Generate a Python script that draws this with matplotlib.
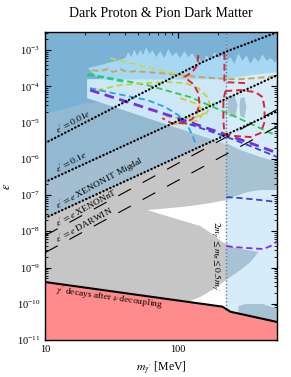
import numpy as np
import matplotlib
matplotlib.use("Agg")
import matplotlib.pyplot as plt
from matplotlib.patches import Polygon

plt.rcParams['font.family'] = ['Liberation Serif', 'DejaVu Serif']
plt.rcParams['mathtext.fontset'] = 'stix'

# ---------------- data (log10 of mass in MeV, log10 of epsilon) ----------------
m_lim = (10, 550)
eps_lim = (1e-11, 10 ** -2.5)
m_threshold_log = 2.361          # vertical dotted line (~230 MeV)

# gamma' decays after nu decoupling (lower bound)
decoup_lm = [1.0, 2.331, 2.391, 2.75]
decoup_le = [-9.40, -10.08, -10.22, -10.51]

# gray excluded region (two lobes)
gray_lm = [1.0, 1.149, 1.316, 1.489, 1.714, 1.902, 2.090, 2.278, 2.361, 2.466, 2.617, 2.767,
           2.767, 2.617, 2.519, 2.429, 2.361, 2.241, 2.090, 1.940, 1.767,
           1.865, 2.015, 2.165, 2.256, 2.331, 2.429, 2.602,
           2.541, 2.466, 2.368, 2.278, 2.165, 2.053, 1.940, 1.0]
gray_le = [-4.766, -4.628, -4.462, -4.434, -4.600, -4.821, -5.097, -5.400, -5.566, -5.759, -5.952, -6.117,
           -6.862, -6.862, -6.917, -7.028, -7.138, -7.221, -7.303, -7.359, -7.414,
           -7.524, -7.690, -7.855, -8.076, -8.297, -8.462, -8.572,
           -8.848, -9.069, -9.317, -9.566, -9.814, -9.979, -10.17, -10.17]

# light-blue jagged region (top edge), left tip to right edge
l1_top_lm = [1.323, 1.414, 1.526, 1.602, 1.624, 1.647, 1.669, 1.692, 1.714, 1.737, 1.759, 1.782,
             1.805, 1.835, 1.865, 1.895, 1.925, 1.955, 1.985, 2.015, 2.045, 2.075, 2.105, 2.135,
             2.150, 2.180, 2.211, 2.241, 2.271, 2.301, 2.331, 2.361, 2.391, 2.421, 2.451, 2.481,
             2.511, 2.541, 2.571, 2.602, 2.632, 2.662, 2.692, 2.722, 2.75]
l1_top_le = [-3.497, -3.414, -3.303, -3.221, -3.055, -3.193, -2.972, -3.166, -3.000, -3.138, -2.917, -3.110,
             -3.000, -3.193, -3.028, -3.221, -2.972, -3.166, -3.055, -3.221, -3.028, -3.193, -3.083, -3.276,
             -3.193, -3.359, -3.138, -3.276, -3.055, -3.221, -3.138, -3.300, -3.200, -3.380, -3.100, -3.300,
             -3.150, -3.380, -3.200, -3.330, -3.120, -3.300, -3.220, -3.330, -3.250]
l1_bot_lm = [2.75, 2.541, 2.361, 1.414, 1.376]
l1_bot_le = [-3.607, -3.690, -3.800, -3.800, -3.690]

# lighter wedge below it
l2_lm = [1.316, 2.361, 2.361, 1.316]
l2_le = [-3.800, -3.800, -5.600, -4.324]

# small gray-blue blobs in the right region
blob1_lm = [2.376, 2.421, 2.444, 2.429, 2.383, 2.368]
blob1_le = [-4.269, -4.241, -4.517, -4.821, -4.848, -4.600]
blob2_lm = [2.466, 2.496, 2.511, 2.496, 2.466, 2.459]
blob2_le = [-4.324, -4.297, -4.572, -4.876, -4.821, -4.545]
blob3_lm = [2.451, 2.451, 2.504, 2.632, 2.75, 2.75]
blob3_le = [-10.40, -10.062, -10.007, -10.007, -10.145, -10.60]

# black reference lines
dot_001_lm = [1.0, 2.165, 2.368, 2.744]
dot_001_le = [-5.566, -3.359, -3.028, -2.503]
dot_01_lm = [1.0, 2.744]
dot_01_le = [-6.641, -3.690]
dot_mig_lm = [1.0, 2.744]
dot_mig_le = [-7.634, -4.683]
dash_lm = [1.0, 2.7404]
dash_xnt_le = [-8.12, -4.639]
dash_dar_le = [-8.59, -5.109]

# coloured projection / constraint curves
olive_lm = [1.353, 1.414, 1.466, 1.511, 1.564, 1.617, 1.677, 1.767, 1.865, 2.015, 2.165, 2.278, 2.361, 2.466, 2.579, 2.744]
olive_le = [-3.552, -3.579, -3.524, -3.607, -3.524, -3.607, -3.579, -3.607, -3.634, -3.690, -3.745, -3.772, -3.800, -3.800, -3.772, -3.717]
ylw_lm = [1.489, 1.767, 2.090]
ylw_le = [-3.221, -3.469, -3.745]
green_lm = [1.323, 1.489, 1.767, 2.090, 2.368, 2.564, 2.744]
green_le = [-3.662, -3.772, -3.966, -4.297, -4.738, -5.069, -5.372]
teal_lm = [1.316, 1.489, 1.602]
teal_le = [-3.690, -3.800, -3.883]
lime_lm = [1.391, 1.564, 1.752, 1.917, 2.053, 2.150, 2.218, 2.241, 2.211, 2.128, 2.015, 1.902]
lime_le = [-4.103, -3.966, -3.910, -3.883, -3.910, -4.048, -4.297, -4.545, -4.738, -4.848, -4.876, -4.821]
gold_lm = [2.015, 2.143, 2.195, 2.150, 2.053, 1.940]
gold_le = [-4.324, -4.490, -4.710, -4.931, -5.041, -5.041]
cyan_lm = [1.338, 1.511, 1.767, 1.902, 2.000, 2.068, 2.105, 2.128]
cyan_le = [-4.048, -4.186, -4.379, -4.572, -4.793, -5.069, -5.345, -5.566]
purple_lm = [1.338, 1.669, 2.015, 2.346, 2.541, 2.744]
purple_le = [-4.103, -4.490, -4.903, -5.317, -5.566, -5.841]
blue_lm = [2.015, 2.346, 2.541, 2.744]
blue_le = [-4.959, -5.372, -5.648, -5.952]
redL_lm = [2.150, 2.143, 2.105, 2.045, 2.113, 2.150, 2.158, 2.143, 2.105, 2.038, 1.947, 1.880]
redL_le = [-3.138, -3.414, -3.607, -3.745, -3.938, -4.186, -4.462, -4.710, -4.903, -5.014, -5.014, -4.876]
redR_lm = [2.353, 2.466, 2.579, 2.632, 2.647, 2.647, 2.617, 2.541, 2.429, 2.346, 2.338, 2.338, 2.353]
redR_le = [-4.131, -4.103, -4.159, -4.297, -4.600, -4.986, -5.290, -5.400, -5.372, -5.317, -4.931, -4.379, -4.131]
redT_lm = [2.346, 2.346, 2.504]
redT_le = [-3.083, -3.883, -3.910]
blueLow_lm = [2.361, 2.466, 2.617, 2.744]
blueLow_le = [-7.055, -7.083, -7.138, -7.193]
purpLow_lm = [2.361, 2.414, 2.519, 2.639, 2.692, 2.744]
purpLow_le = [-8.407, -8.434, -8.462, -8.490, -8.407, -8.269]

# label positions: (log10 m of left start, offset above its line in decades)
label_start_lm = 1.098

# colours
c_blue = '#7cb1d6'
c_gray = '#c6c6c6'
c_grayblue_hi = '#93b8d2'
c_grayblue_lo = '#a2bed0'
c_light = '#d6ecf9'
c_graylight = '#a6c2d3'
c_l1 = '#a7d8f3'
c_l2 = '#cce8f8'
c_pink = '#ff8c8c'


def P(lm, le):
    return np.column_stack([10 ** np.asarray(lm, float), 10 ** np.asarray(le, float)])


fig = plt.figure(figsize=(2.91, 3.77), dpi=100)
ax = fig.add_axes([45 / 291, 1 - 340 / 377, 232 / 291, 308 / 377])
ax.set_xscale('log')
ax.set_yscale('log')
ax.set_xlim(*m_lim)
ax.set_ylim(*eps_lim)

top_le = -2.4
mig_at_thr = np.interp(m_threshold_log, dot_mig_lm, dot_mig_le)
d01_at_thr = np.interp(m_threshold_log, dot_01_lm, dot_01_le)

# left blue region (above Migdal line)
blue_patch = Polygon(P([1.0, m_threshold_log, m_threshold_log, 1.0],
                       [top_le, top_le, mig_at_thr, dot_mig_le[0]]),
                     closed=True, fc=c_blue, ec='none', zorder=1)
ax.add_patch(blue_patch)
upper_clip = Polygon(P([1.0, m_threshold_log, m_threshold_log, 1.0],
                       [top_le, top_le, d01_at_thr, dot_01_le[0]]),
                     closed=True, transform=ax.transData)

# right light region (above decoupling line)
dec_thr = np.interp(m_threshold_log, decoup_lm, decoup_le)
r_lm = [m_threshold_log, 2.8, 2.8, m_threshold_log]
r_le = [top_le, top_le, -10.6, dec_thr]
right_patch = Polygon(P(r_lm, r_le), closed=True, fc=c_light, ec='none', zorder=1)
ax.add_patch(right_patch)

# gray region
ax.add_patch(Polygon(P(gray_lm, gray_le), closed=True, fc=c_gray, ec='none', zorder=0.5))
g2 = Polygon(P(gray_lm, gray_le), closed=True, fc=c_grayblue_lo, ec='none', zorder=1.5)
ax.add_patch(g2)
g2.set_clip_path(blue_patch)
g2b = Polygon(P(gray_lm, gray_le), closed=True, fc=c_grayblue_hi, ec='none', zorder=1.6)
ax.add_patch(g2b)
g2b.set_clip_path(upper_clip)
g3 = Polygon(P(gray_lm, gray_le), closed=True, fc=c_graylight, ec='none', zorder=1.5)
ax.add_patch(g3)
g3.set_clip_path(right_patch)

# light wedges
ax.add_patch(Polygon(P(l2_lm, l2_le), closed=True, fc=c_l2, ec='none', zorder=2))
l1 = P(l1_top_lm + l1_bot_lm, l1_top_le + l1_bot_le)
ax.add_patch(Polygon(l1, closed=True, fc=c_l1, ec='none', zorder=2.1))
# top-right blue above the jagged edge
idx = [i for i, v in enumerate(l1_top_lm) if v >= m_threshold_log]
tr_lm = [m_threshold_log, 2.8, 2.8] + [l1_top_lm[i] for i in idx[::-1]]
tr_le = [top_le, top_le, l1_top_le[-1]] + [l1_top_le[i] for i in idx[::-1]]
ax.add_patch(Polygon(P(tr_lm, tr_le), closed=True, fc=c_blue, ec='none', zorder=2.2))

for bl, be in [(blob1_lm, blob1_le), (blob2_lm, blob2_le), (blob3_lm, blob3_le)]:
    ax.add_patch(Polygon(P(bl, be), closed=True, fc=c_graylight, ec='none', zorder=2.3))

# pink region below decoupling line
dm = 10 ** np.asarray(decoup_lm)
de = 10 ** np.asarray(decoup_le)
ax.fill_between(dm, de, 1e-12, color=c_pink, lw=0, zorder=3)
ax.plot(dm, de, color='black', lw=1.5, zorder=6)

# vertical threshold line
ax.plot([10 ** m_threshold_log] * 2, [10 ** dec_thr, 1e-2],
        color='#5f7f95', lw=1.0, ls=(0, (1, 1.5)), zorder=4)

# coloured curves
curves = [
    (olive_lm, olive_le, '#c9a24e', 1.3),
    (ylw_lm, ylw_le, '#c8d44a', 1.3),
    (green_lm, green_le, '#2ecc40', 1.3),
    (teal_lm, teal_le, '#20c8a8', 1.3),
    (lime_lm, lime_le, '#b9d63a', 1.3),
    (gold_lm, gold_le, '#e8c21e', 1.3),
    (cyan_lm, cyan_le, '#1fa6e6', 1.3),
    (purple_lm, purple_le, '#7a2de0', 2.0),
    (blue_lm, blue_le, '#3347dd', 1.3),
    (redL_lm, redL_le, '#dc2436', 1.4),
    (redR_lm, redR_le, '#dc2436', 1.4),
    (redT_lm, redT_le, '#dc2436', 1.4),
    (blueLow_lm, blueLow_le, '#3347dd', 1.3),
    (purpLow_lm, purpLow_le, '#8a2be2', 1.3),
]
for lm, le, col, lw in curves:
    ax.plot(10 ** np.asarray(lm), 10 ** np.asarray(le), color=col, lw=lw,
            ls=(0, (3.5, 2)), zorder=5)

# black reference lines
for lm, le in [(dot_001_lm, dot_001_le), (dot_01_lm, dot_01_le), (dot_mig_lm, dot_mig_le)]:
    ax.plot(10 ** np.asarray(lm), 10 ** np.asarray(le), color='black', lw=1.7, ls=(0, (0.1, 1.5)),
            dash_capstyle='round', zorder=7)
for le in [dash_xnt_le, dash_dar_le]:
    ax.plot(10 ** np.asarray(dash_lm), 10 ** np.asarray(le), color='black', lw=0.8,
            ls=(0, (13, 12)), zorder=7)

# text labels along the lines
fs = 6.8
rot = 28.6
labels = [
    (dot_001_lm, dot_001_le, r"$\epsilon' = 0.01e$", 0.07),
    (dot_01_lm, dot_01_le, r"$\epsilon' = 0.1e$", 0.09),
    (dot_mig_lm, dot_mig_le, r"$\epsilon' = e$ XENON1T Migdal", 0.07),
    (dash_lm, dash_xnt_le, r"$\epsilon' = e$ XENONnT", 0.04),
    (dash_lm, dash_dar_le, r"$\epsilon' = e$ DARWIN", 0.07),
]
for lm, le, txt, off in labels:
    y0 = np.interp(label_start_lm, lm, le) + off
    ax.text(10 ** label_start_lm, 10 ** y0, txt, fontsize=fs, rotation=rot,
            rotation_mode='anchor', ha='left', va='baseline', zorder=8)

ax.text(30.3, 1.45e-10, r"$\gamma'$ decays after $\nu$ decoupling", fontsize=fs, rotation=-8,
        ha='center', va='center', zorder=8)
ax.text(193, 10 ** -8.68, r"$2m_{\gamma'} \leq m_{\pi} \leq 0.5m_{\gamma'}$", fontsize=fs, rotation=-90,
        ha='center', va='center', zorder=8)

# axes styling
ax.set_yticks([10.0 ** k for k in range(-11, -2)])
ax.set_xticks([10, 100])
ax.set_xticklabels(['10', '100'])
ax.tick_params(which='both', direction='in', top=True, right=True, labelsize=7.5)
ax.tick_params(which='major', length=4.5, width=0.8)
ax.tick_params(which='minor', length=2.2, width=0.6)
for s in ax.spines.values():
    s.set_linewidth(1.0)
    s.set_zorder(10)
ax.set_xlabel(r"$m_{\gamma'}$ [MeV]", fontsize=8.5, labelpad=4)
ax.set_ylabel(r"$\epsilon$", fontsize=9, labelpad=3)
ax.set_title("Dark Proton & Pion Dark Matter", fontsize=10, pad=11)

fig.savefig('out.png', dpi=100)
